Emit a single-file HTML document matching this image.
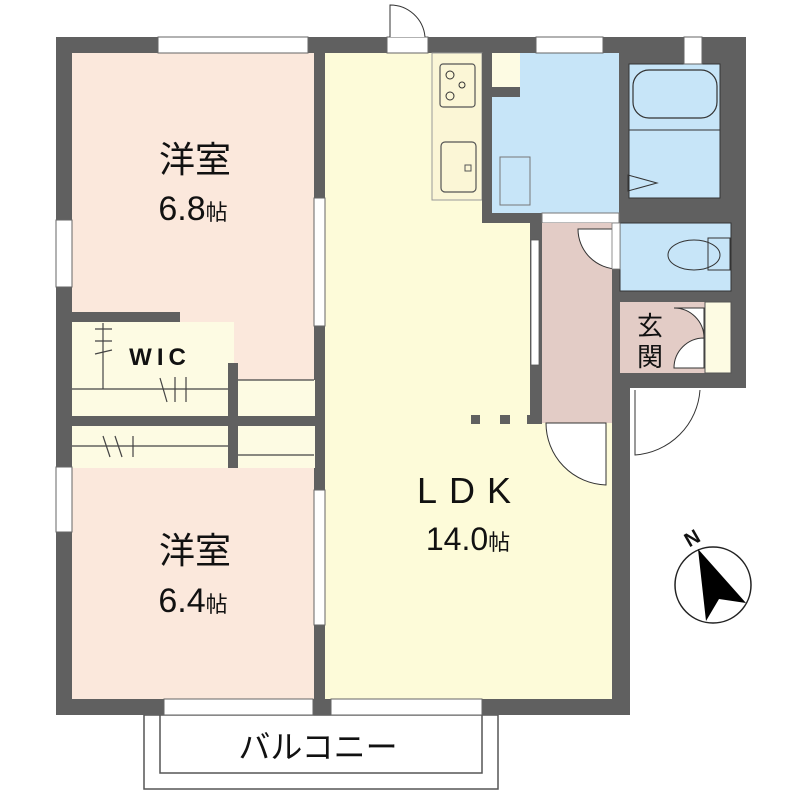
<!DOCTYPE html>
<html><head><meta charset="utf-8"><style>
html,body{margin:0;padding:0;background:#fff;}
svg{display:block}
text{font-family:"Liberation Sans","Noto Sans CJK JP",sans-serif;fill:#111;}
</style></head><body>
<svg width="800" height="800" viewBox="0 0 800 800" xmlns="http://www.w3.org/2000/svg">
<rect x="144" y="715" width="354" height="74" fill="#fff" stroke="#555" stroke-width="1.5"/>
<rect x="160" y="715" width="322" height="58" fill="#fff" stroke="#555" stroke-width="1.5"/>
<text x="318" y="758" font-size="32" text-anchor="middle">バルコニー</text>
<polygon points="56,37 746,37 746,388 630,388 630,715 56,715" fill="#606060"/>
<rect x="72" y="53" width="242" height="259" fill="#fbe8dc"/>
<rect x="180" y="312" width="134" height="68" fill="#fbe8dc"/>
<rect x="72" y="322" width="162" height="94" fill="#fdfbe3"/>
<rect x="238" y="380" width="77" height="36" fill="#fdfbe3"/>
<rect x="72" y="312" width="108" height="10" fill="#606060"/>
<rect x="228" y="363" width="10" height="105" fill="#606060"/>
<rect x="72" y="426" width="156" height="42" fill="#fdfbe3"/>
<rect x="238" y="426" width="77" height="42" fill="#fdfbe3"/>
<rect x="72" y="468" width="242" height="231" fill="#fbe8dc"/>
<g stroke="#444" stroke-width="1.2">
<line x1="72" y1="389" x2="228" y2="389"/><line x1="238" y1="380" x2="314" y2="380"/>
<line x1="103" y1="323" x2="103" y2="389"/><line x1="95" y1="329" x2="112" y2="329"/><line x1="95" y1="341" x2="112" y2="341"/><line x1="95" y1="354" x2="112" y2="350"/>
<line x1="160" y1="378" x2="167" y2="402"/><line x1="175" y1="377" x2="175" y2="402"/><line x1="186" y1="377" x2="186" y2="402"/>
<line x1="72" y1="446" x2="228" y2="446"/><line x1="238" y1="455" x2="314" y2="455"/>
<line x1="103" y1="436" x2="110" y2="457"/><line x1="115" y1="436" x2="122" y2="457"/><line x1="133" y1="436" x2="133" y2="457"/>
</g>
<rect x="325" y="53" width="287" height="646" fill="#fdfbd9"/>
<rect x="432" y="53" width="50" height="147" fill="#fbf6d6" stroke="#999" stroke-width="1"/>
<rect x="440" y="64" width="35" height="43" rx="3" fill="none" stroke="#555" stroke-width="1.2"/>
<circle cx="450" cy="75" r="4" fill="none" stroke="#333"/><circle cx="450" cy="96" r="4" fill="none" stroke="#333"/><circle cx="462" cy="85" r="3" fill="none" stroke="#333"/>
<rect x="441" y="142" width="35" height="50" rx="4" fill="none" stroke="#555" stroke-width="1.2"/>
<rect x="465" y="165" width="6" height="6" fill="none" stroke="#555"/>
<rect x="482" y="53" width="10" height="170" fill="#606060"/>
<rect x="492" y="53" width="127" height="160" fill="#c7e5f8"/>
<rect x="492" y="53" width="28" height="34" fill="#fdfbe3"/>
<rect x="492" y="87" width="28" height="10" fill="#606060"/>
<rect x="500" y="157" width="30" height="48" fill="#c7e5f8" stroke="#777"/>
<rect x="482" y="213" width="60" height="10" fill="#606060"/>
<rect x="542" y="213" width="77" height="10" fill="#fff" stroke="#777" stroke-width="1"/>
<rect x="629" y="64" width="91" height="134" fill="#c7e5f8" stroke="#333" stroke-width="1"/>
<rect x="633" y="70" width="84" height="48" rx="16" fill="none" stroke="#333" stroke-width="1.2"/>
<line x1="629" y1="130" x2="720" y2="130" stroke="#333"/>
<polygon points="628,175 657,183 628,191" fill="none" stroke="#333"/>
<rect x="542" y="223" width="70" height="200" fill="#e3ccc6"/>
<rect x="530" y="223" width="12" height="200" fill="#606060"/>
<rect x="531" y="240" width="8" height="125" fill="#fff" stroke="#555" stroke-width="0.8"/>
<rect x="620" y="223" width="111" height="68" fill="#c7e5f8" stroke="#333" stroke-width="1"/>
<ellipse cx="694" cy="255" rx="26" ry="15" fill="none" stroke="#333"/>
<rect x="708" y="238" width="22" height="32" fill="none" stroke="#333"/>
<path d="M578,229 L618,229 L618,269 A40,40 0 0 1 578,229Z" fill="#fff" stroke="#333"/>
<rect x="612" y="223" width="8" height="46" fill="#fff" stroke="#777" stroke-width="0.8"/>
<rect x="620" y="302" width="85" height="71" fill="#e3ccc6"/>
<rect x="705" y="302" width="26" height="71" fill="#fdfbe3" stroke="#555"/>
<path d="M674,308 A30,30 0 0 1 704,338 L704,308Z" fill="#fff" stroke="#333"/>
<path d="M674,368 A30,30 0 0 1 704,338 L704,368Z" fill="#fff" stroke="#333"/>
<rect x="612" y="373" width="18" height="15" fill="#606060"/>
<path d="M635,390 L635,455 A70,70 0 0 0 700,390" fill="#fff" stroke="#333"/>
<path d="M546,423 L606,423 L606,485 A62,62 0 0 1 546,423Z" fill="#fff" stroke="#333"/>
<rect x="471" y="415" width="9" height="9" fill="#606060"/>
<rect x="500" y="415" width="10" height="9" fill="#606060"/>
<rect x="527" y="415" width="15" height="9" fill="#606060"/>
<g fill="#fff" stroke="#666" stroke-width="1">
<rect x="158" y="37" width="150" height="16"/><rect x="536" y="37" width="67" height="16"/><rect x="684" y="37" width="18" height="27"/>
<rect x="56" y="220" width="16" height="67"/><rect x="56" y="467" width="16" height="65"/>
<rect x="164" y="699" width="149" height="16"/><rect x="331" y="699" width="151" height="16"/>
<rect x="314" y="198" width="11" height="128"/><rect x="314" y="490" width="11" height="135"/>
<rect x="387" y="37" width="41" height="16"/>
</g>
<path d="M390,37 L390,5 A35,35 0 0 1 425,37" fill="#fff" stroke="#333"/>
<text x="195" y="172" font-size="36" text-anchor="middle">洋室</text>
<text x="193" y="220" font-size="34" text-anchor="middle">6.8<tspan font-size="22">帖</tspan></text>
<text x="195" y="563" font-size="36" text-anchor="middle">洋室</text>
<text x="193" y="612" font-size="34" text-anchor="middle">6.4<tspan font-size="22">帖</tspan></text>
<text x="160" y="365" font-size="24" font-weight="bold" text-anchor="middle" letter-spacing="5">WIC</text>
<text x="470" y="503" font-size="36" text-anchor="middle" letter-spacing="12">LDK</text>
<text x="468" y="550" font-size="32" text-anchor="middle">14.0<tspan font-size="22">帖</tspan></text>
<text x="650" y="335" font-size="26" text-anchor="middle">玄</text>
<text x="650" y="366" font-size="26" text-anchor="middle">関</text>
<circle cx="713" cy="585" r="38" fill="#fff" stroke="#222" stroke-width="1.5"/>
<polygon points="698,549 706,621 719,599 746,603" fill="#000"/>
<text x="692" y="545" font-size="20" font-weight="bold" text-anchor="middle" transform="rotate(-30 692 538)">N</text>
</svg>
</body></html>
